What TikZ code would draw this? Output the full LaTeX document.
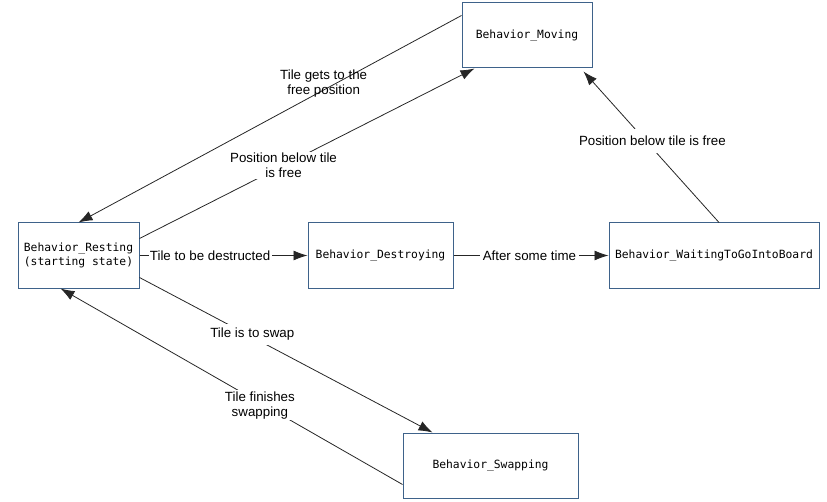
\documentclass[tikz,border=0pt]{standalone}
\usepackage{fontspec}
\setmainfont{Liberation Sans}
\setmonofont{DejaVu Sans Mono}
\usetikzlibrary{positioning}
\usetikzlibrary{calc}
\usetikzlibrary{arrows.meta}
\newdimen\pxu \pxu=0.75pt
\definecolor{boxblue}{RGB}{62,98,138}
\tikzset{every picture/.style={x=0.75pt,y=-0.75pt,line width=0.75pt},
state/.style={draw=boxblue,minimum height=65\pxu,inner sep=0pt,align=center,font=\ttfamily\fontsize{8.5}{10.5}\selectfont},
trans/.style={-{Latex[length=10.5pt,width=7.5pt]},draw=black!85,line width=0.6pt},
lbl/.style={fill=white,inner xsep=1pt,inner ysep=1pt,align=center,font=\fontsize{10}{11.25}\selectfont}}

\begin{document}
\begin{tikzpicture}
\useasboundingbox (0,0) rectangle (827,502);
\node (rest) at (78.5,255.5) [state,minimum width=121\pxu] {Behavior\_Resting\\(starting state)};
\node (destr) [state,minimum width=145\pxu,right=126pt of rest] {Behavior\_Destroying};
\node (wait) [state,minimum width=210\pxu,right=116.25pt of destr] {Behavior\_WaitingToGoIntoBoard};
\node (mov) at (527,35.5) [state,minimum width=130\pxu] {Behavior\_Moving};
\node (swap) at (490.5,465.5) [state,minimum width=175\pxu] {Behavior\_Swapping};

\draw[trans] ($(mov.north west)+(0,13)$) -- (rest.north) node[lbl,fill=none,pos=0.36,yshift=4.5pt] {Tile gets to the\\free position};
\draw[trans] ($(rest.north east)+(0,16)$) -- ($(mov.south west)+(13,0)$) node[lbl,pos=0.43] {Position below tile\\is free};
\draw[trans] (rest) -- (destr) node[lbl,pos=0.42] {Tile to be destructed};
\draw[trans] (destr) -- (wait) node[lbl,pos=0.49,inner xsep=2pt] {After some time};
\draw[trans] ($(wait.north)+(5,0)$) -- ($(mov.south east)+(-9,3)$) node[lbl,pos=0.54,xshift=4.9pt,inner ysep=5pt] {Position below tile is free};
\draw[trans] ($(rest.north east)+(0,55)$) -- ($(swap.north west)+(30,0)$) node[lbl,pos=0.385,yshift=2pt,inner ysep=3pt] {Tile is to swap};
\draw[trans] ($(swap.north west)+(0,52)$) -- ($(rest.south)+(-18,0)$) node[lbl,pos=0.417,yshift=-2pt] {Tile finishes\\swapping};
\end{tikzpicture}
\end{document}
